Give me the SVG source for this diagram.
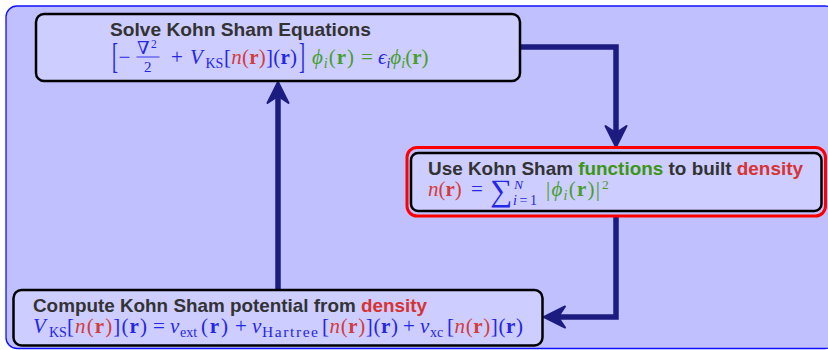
<svg xmlns="http://www.w3.org/2000/svg" xmlns:xlink="http://www.w3.org/1999/xlink" width="828" height="350" viewBox="0 0 828 350">
<style>
.node{fill:#cdcdff;stroke:#000;stroke-width:2.5}
.t{font-family:"Liberation Sans",Arial,sans-serif;font-weight:bold;font-size:19px;fill:#333}
.m{font-family:"Liberation Serif","DejaVu Serif",serif;font-size:21px}
.i{font-style:italic}
.b{font-weight:bold}
.s{font-size:14px}
.bl{fill:#2626e6}
.rd{fill:#d43c3c}
.gr{fill:#46a028}
.gw{fill:#3c9614}
.rw{fill:#d63333}
.conn{fill:none;stroke:#1c1c80;stroke-width:5.5}
.head{fill:#1c1c80;stroke:#1c1c80;stroke-width:2;stroke-linejoin:round}
</style>
<defs>
<path id="ah" d="M0,0 L-21,-10.5 L-14,0 L-21,10.5 Z"/>
</defs>
<rect x="0" y="0" width="828" height="350" fill="#fff"/>
<rect x="6" y="6" width="830" height="342.5" rx="11" fill="#c0c0ff" stroke="#1010ff" stroke-width="1.3"/>

<g id="connectors">
<path class="conn" d="M520,47 H616 V134"/>
<use xlink:href="#ah" class="head" transform="translate(616,147) rotate(90)"/>
<path class="conn" d="M616,216 V317 H558"/>
<use xlink:href="#ah" class="head" transform="translate(544,317) rotate(180)"/>
<path class="conn" d="M278,290 V96"/>
<use xlink:href="#ah" class="head" transform="translate(278,82) rotate(-90)"/>
</g>

<g id="solve">
<rect class="node" x="36" y="14" width="484" height="67" rx="8"/>
<text class="t" x="110" y="35.5" textLength="261" lengthAdjust="spacingAndGlyphs">Solve Kohn Sham Equations</text>
<text class="m bl" style="font-size:36px" transform="translate(112,68) scale(0.5,1)">[</text>
<text class="m bl" x="118.5" y="64">−</text>
<text class="m bl" x="137" y="54" style="font-size:18px">∇</text>
<text class="m bl" x="151" y="47.5" style="font-size:11.5px">2</text>
<line x1="136.5" y1="57" x2="159.5" y2="57" stroke="#2626e6" stroke-width="0.9"/>
<text class="m bl" x="144" y="71.5" style="font-size:15px">2</text>
<text class="m bl" x="171" y="64">+</text>
<text class="m bl i" x="190" y="64">V</text>
<text class="m bl s" x="205.5" y="68">KS</text>
<text class="m" x="224" y="64" textLength="73" lengthAdjust="spacing"><tspan class="bl">[</tspan><tspan class="rd i">n</tspan><tspan class="rd">(</tspan><tspan class="rd b">r</tspan><tspan class="rd">)</tspan><tspan class="bl">]</tspan><tspan class="bl">(</tspan><tspan class="bl b">r</tspan><tspan class="bl">)</tspan></text>
<text class="m bl" style="font-size:36px" transform="translate(299,68) scale(0.5,1)">]</text>
<text class="m gr" x="312" y="64" textLength="42" lengthAdjust="spacing"><tspan class="i">ϕ</tspan><tspan class="i s" dy="4">i</tspan><tspan dy="-4">(</tspan><tspan class="b">r</tspan>)</text>
<text class="m gr" x="361" y="64">=</text>
<text class="m gr" x="378" y="64"><tspan class="i bl">ϵ</tspan><tspan class="i s bl" dy="4">i</tspan><tspan class="i" dy="-4">ϕ</tspan><tspan class="i s" dy="4">i</tspan><tspan dy="-4">(</tspan><tspan class="b">r</tspan>)</text>
</g>

<g id="density">
<rect x="407" y="147.5" width="418.5" height="68.5" rx="10" fill="none" stroke="#ff0000" stroke-width="3"/>
<rect class="node" x="411" y="153" width="410.5" height="58" rx="7"/>
<text class="t" x="428" y="175" textLength="375" lengthAdjust="spacingAndGlyphs">Use Kohn Sham <tspan class="gw">functions</tspan> to built <tspan class="rw">density</tspan></text>
<text class="m" x="428" y="195.5"><tspan class="rd i">n</tspan><tspan class="rd">(</tspan><tspan class="rd b">r</tspan><tspan class="rd">)</tspan></text>
<text class="m bl" x="471" y="195.5">=</text>
<text class="m bl" x="490" y="201" style="font-size:31px">∑</text>
<text class="m bl i" x="514" y="189" style="font-size:13.5px">N</text>
<text class="m bl" x="513" y="204.5" style="font-size:14px" textLength="24" lengthAdjust="spacing"><tspan class="i">i</tspan>=1</text>
<text class="m gr" x="546" y="195.5" textLength="54" lengthAdjust="spacing">|<tspan class="i">ϕ</tspan><tspan class="i s" dy="4">i</tspan><tspan dy="-4">(</tspan><tspan class="b">r</tspan>)|</text>
<text class="m gr" x="602" y="188.5" style="font-size:13.5px">2</text>
</g>

<g id="potential">
<rect class="node" x="13.5" y="290" width="529" height="55.5" rx="8"/>
<text class="t" x="33" y="312" textLength="394" lengthAdjust="spacingAndGlyphs">Compute Kohn Sham potential from <tspan class="rw">density</tspan></text>
<text class="m bl i" x="33" y="333">V</text>
<text class="m bl s" x="49" y="337">KS</text>
<text class="m" x="67" y="333" textLength="80" lengthAdjust="spacing"><tspan class="bl">[</tspan><tspan class="rd i">n</tspan><tspan class="rd">(</tspan><tspan class="rd b">r</tspan><tspan class="rd">)</tspan><tspan class="bl">]</tspan><tspan class="bl">(</tspan><tspan class="bl b">r</tspan><tspan class="bl">)</tspan></text>
<text class="m bl" x="153" y="333">=</text>
<text class="m bl i" x="170" y="333">v</text>
<text class="m bl s" x="180" y="337">ext</text>
<text class="m bl" x="201" y="333" textLength="27" lengthAdjust="spacing">(<tspan class="b">r</tspan>)</text>
<text class="m bl" x="235" y="333">+</text>
<text class="m bl i" x="252" y="333">v</text>
<text class="m bl" x="262" y="337" style="font-size:15.5px" textLength="56" lengthAdjust="spacing">Hartree</text>
<text class="m" x="322" y="333" textLength="76" lengthAdjust="spacing"><tspan class="bl">[</tspan><tspan class="rd i">n</tspan><tspan class="rd">(</tspan><tspan class="rd b">r</tspan><tspan class="rd">)</tspan><tspan class="bl">]</tspan><tspan class="bl">(</tspan><tspan class="bl b">r</tspan><tspan class="bl">)</tspan></text>
<text class="m bl" x="403" y="333">+</text>
<text class="m bl i" x="420" y="333">v</text>
<text class="m bl s" x="430" y="337">xc</text>
<text class="m" x="447" y="333" textLength="76" lengthAdjust="spacing"><tspan class="bl">[</tspan><tspan class="rd i">n</tspan><tspan class="rd">(</tspan><tspan class="rd b">r</tspan><tspan class="rd">)</tspan><tspan class="bl">]</tspan><tspan class="bl">(</tspan><tspan class="bl b">r</tspan><tspan class="bl">)</tspan></text>
</g>
</svg>
